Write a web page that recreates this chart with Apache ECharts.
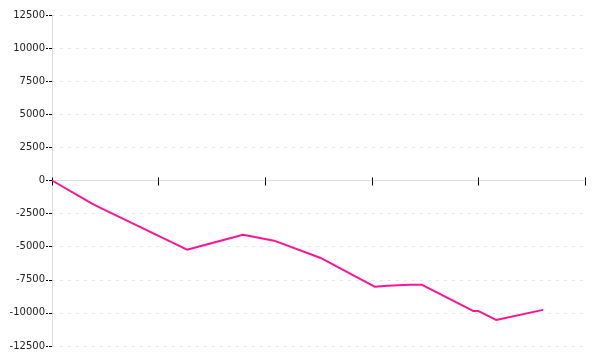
<!DOCTYPE html>
<html>
<head>
<meta charset="utf-8">
<script src="https://cdn.jsdelivr.net/npm/echarts@6/dist/echarts.min.js"></script>
<style>html,body{margin:0;padding:0;background:#fff}#c{width:600px;height:360px}</style>
</head>
<body>
<div id="c"></div>
<script>
var xValues = [0, 3.75, 4.69, 12.66, 17.92, 20.83, 25.14, 30.3, 31.43, 33.58, 34.71, 39.49, 39.96, 41.65, 46.06];
var yValues = [0, -1742, -2121, -5227, -4091, -4545, -5833, -8030, -7955, -7879, -7879, -9848, -9848, -10530, -9773];
var yTicks = [-12500, -10000, -7500, -5000, -2500, 0, 2500, 5000, 7500, 10000, 12500];

var points = xValues.map(function (x, i) { return [x, yValues[i]]; });
var chart = echarts.init(document.getElementById('c'), null, { renderer: 'canvas' });
var xBase = {
  type: 'value', min: 0, max: 50, interval: 10,
  axisLabel: { show: false },
  splitLine: { show: false },
  axisLine: { onZero: true, onZeroAxisIndex: 0, lineStyle: { color: '#dddddd', width: 1 } }
};
chart.setOption({
  animation: false,
  grid: { left: 52, right: 15, top: 15, bottom: 14, containLabel: false },
  xAxis: [
    Object.assign({}, xBase, { position: 'bottom', axisTick: { show: true, inside: false, length: 5, lineStyle: { color: '#000' } } }),
    Object.assign({}, xBase, { position: 'top', axisTick: { show: true, inside: false, length: 3, lineStyle: { color: '#000' } } })
  ],
  yAxis: {
    type: 'value', min: yTicks[0], max: yTicks[yTicks.length - 1], interval: 2500,
    axisLine: { show: true, onZero: false, lineStyle: { color: '#dddddd' } },
    axisTick: { show: true, length: 6, lineStyle: { color: '#000', type: [3, 1] } },
    axisLabel: { margin: 7, color: '#222', fontFamily: 'DejaVu Sans', fontSize: 10,
      formatter: function (v) { return String(v); } },
    splitLine: { show: true, lineStyle: { color: '#e8e8e8', type: [3, 5] } }
  },
  series: [{
    type: 'line', data: points, showSymbol: false, symbol: 'none',
    lineStyle: { color: '#ff1493', width: 2 }, xAxisIndex: 0
  }]
});
</script>
</body>
</html>
